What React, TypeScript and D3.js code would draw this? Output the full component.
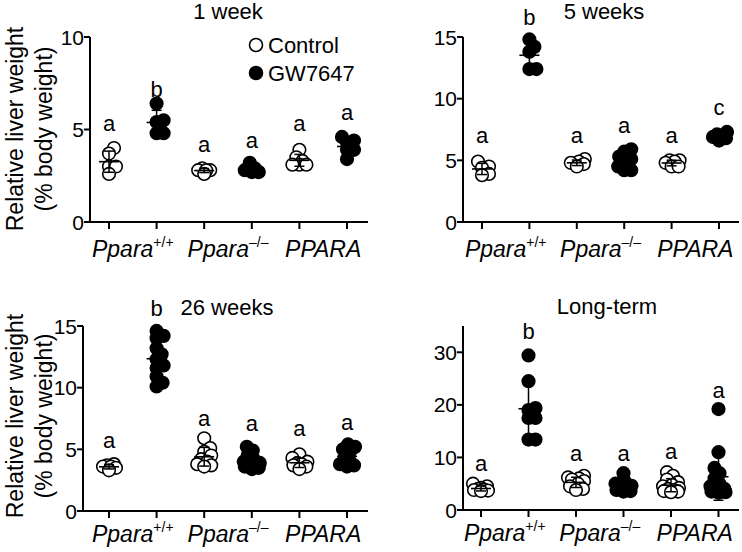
import React from "react";
import * as d3 from "d3";

// ---------- DATA ----------
const groupIds = ["wtC", "wtG", "koC", "koG", "huC", "huG"];
const genotypes = ["Ppara", "Ppara", "PPARA"];
const genotypeSups = ["+/+", "\u2013/\u2013", ""];
const treatments = ["Control", "GW7647"];
const panelTitles = ["1 week", "5 weeks", "26 weeks", "Long-term"];

const week1Values = [
  [4.0, 3.7, 3.0, 3.0, 2.6],
  [6.4, 5.5, 5.4, 4.8, 4.8],
  [2.9, 2.8, 2.8, 2.8, 2.6],
  [3.2, 2.9, 2.8, 2.7, 2.7],
  [3.9, 3.5, 3.3, 3.1, 3.1, 3.1],
  [4.6, 4.4, 4.3, 3.9, 3.9, 3.4],
];
const week5Values = [
  [4.9, 4.5, 4.4, 3.9, 3.8],
  [14.8, 14.2, 13.8, 12.4, 12.4],
  [5.1, 4.9, 4.8, 4.7, 4.5],
  [5.9, 5.7, 5.3, 5.1, 4.9, 4.5, 4.2, 4.2],
  [5.0, 5.0, 4.9, 4.8, 4.5, 4.5],
  [7.3, 7.1, 7.0, 6.9, 6.8, 6.6],
];
const week26Values = [
  [3.8, 3.7, 3.6, 3.6, 3.5, 3.3],
  [14.6, 14.2, 14.0, 13.2, 12.7, 12.3, 11.8, 11.6, 10.9, 10.4, 10.1],
  [5.9, 5.1, 4.8, 4.5, 4.2, 4.0, 3.8, 3.7, 3.6],
  [5.2, 4.9, 4.5, 4.2, 4.0, 3.9, 3.8, 3.7, 3.6, 3.5, 3.4],
  [4.6, 4.3, 4.0, 3.9, 3.8, 3.7, 3.6, 3.4],
  [5.4, 5.2, 5.0, 4.8, 4.4, 4.0, 3.8, 3.7, 3.6],
];
const longTermValues = [
  [5.0, 4.5, 4.2, 4.0, 3.9, 3.8, 3.7, 3.6],
  [29.4, 24.5, 19.4, 19.0, 17.5, 17.5, 13.4, 13.4],
  [6.5, 6.2, 6.0, 5.8, 5.5, 5.0, 4.5, 4.0, 3.8],
  [7.0, 5.5, 5.0, 4.6, 4.3, 4.0, 3.8, 3.6, 3.5],
  [7.2, 6.5, 5.8, 5.3, 4.8, 4.5, 4.2, 4.0, 3.8, 3.6, 3.5, 3.4],
  [19.2, 11.0, 8.0, 7.0, 6.0, 5.0, 4.5, 4.0, 3.8, 3.6, 3.5, 3.4, 3.3],
];

const week1Letters = ["a", "b", "a", "a", "a", "a"];
const week5Letters = ["a", "b", "a", "a", "a", "c"];
const week26Letters = ["a", "b", "a", "a", "a", "a"];
const longTermLetters = ["a", "b", "a", "a", "a", "a"];

// letter heights in data units
const week1LetterAt = [4.9, 6.75, 3.8, 4.0, 4.9, 5.5];
const week5LetterAt = [6.4, 16.0, 6.4, 7.2, 6.4, 8.7];
const week26LetterAt = [5.1, 15.8, 6.9, 6.5, 6.1, 6.6];
const longTermLetterAt = [7.4, 32.6, 9.3, 9.3, 9.7, 21.3];

const week1Ticks = [0, 5, 10];
const week5Ticks = [0, 5, 10, 15];
const week26Ticks = [0, 5, 10, 15];
const longTermTicks = [0, 10, 20, 30];

const yLabelLines = ["Relative liver weight", "(% body weight)"];

// ---------- LAYOUT ----------
const FONT = "'Liberation Sans', Arial, Helvetica, sans-serif";

type PanelCfg = {
  title: string;
  values: number[][];
  letters: string[];
  letterAt: number[];
  ticks: number[];
  yMax: number;
  axisX: number;
  top: number;
  bottom: number;
  right: number;
  tick0: number;
  step: number;
  titleX: number;
  titleY: number;
  labelGap: number;
  yLabelCx: number | null;
  legend: boolean;
};

const panels: PanelCfg[] = [
  {
    title: panelTitles[0], values: week1Values, letters: week1Letters, letterAt: week1LetterAt,
    ticks: week1Ticks, yMax: 10, axisX: 90, top: 37, bottom: 222, right: 368, tick0: 109, step: 47.6,
    titleX: 228, titleY: 19, labelGap: 35, yLabelCx: 129, legend: true,
  },
  {
    title: panelTitles[1], values: week5Values, letters: week5Letters, letterAt: week5LetterAt,
    ticks: week5Ticks, yMax: 15, axisX: 463, top: 37, bottom: 222, right: 739, tick0: 482, step: 47.4,
    titleX: 604, titleY: 19, labelGap: 35, yLabelCx: null, legend: false,
  },
  {
    title: panelTitles[2], values: week26Values, letters: week26Letters, letterAt: week26LetterAt,
    ticks: week26Ticks, yMax: 15, axisX: 83, top: 326, bottom: 511, right: 368, tick0: 109, step: 47.6,
    titleX: 227, titleY: 315, labelGap: 31, yLabelCx: 416, legend: false,
  },
  {
    title: panelTitles[3], values: longTermValues, letters: longTermLetters, letterAt: longTermLetterAt,
    ticks: longTermTicks, yMax: 35, axisX: 463, top: 326, bottom: 510, right: 739, tick0: 481, step: 47.5,
    titleX: 607, titleY: 314, labelGap: 31, yLabelCx: null, legend: false,
  },
];

const R = 6.3;

function beeswarm(ys: number[], minDist: number, maxOff: number): number[] {
  const order = ys.map((_, i) => i).sort((a, b) => ys[b] - ys[a]);
  const placed: { x: number; y: number }[] = [];
  const out = new Array(ys.length).fill(0);
  const cands: number[] = [0];
  for (let k = 1; k <= maxOff; k++) { cands.push(k); cands.push(-k); }
  for (const i of order) {
    const y = ys[i];
    let best = 0;
    let bestScore = -1;
    for (const off of cands) {
      const score = placed.length
        ? Math.min(...placed.map((p) => Math.hypot(p.x - off, p.y - y)))
        : Infinity;
      if (score >= minDist) { best = off; bestScore = score; break; }
      if (score > bestScore + 0.01) { bestScore = score; best = off; }
    }
    placed.push({ x: best, y });
    out[i] = best;
  }
  return out;
}

function Panel({ cfg }: { cfg: PanelCfg }) {
  const x = d3.scalePoint<string>().domain(groupIds).range([cfg.tick0, cfg.tick0 + 5 * cfg.step]);
  const y = d3.scaleLinear().domain([0, cfg.yMax]).range([cfg.bottom, cfg.top]);
  const lw = 2;
  return (
    <g>
      <text x={cfg.titleX} y={cfg.titleY} textAnchor="middle" fontSize={22} fontFamily={FONT}>{cfg.title}</text>
      {/* y axis */}
      <line x1={cfg.axisX} x2={cfg.axisX} y1={y(cfg.yMax)} y2={cfg.bottom + lw / 2} stroke="#000" strokeWidth={lw} />
      {cfg.ticks.map((t) => (
        <g key={t}>
          <line x1={cfg.axisX - 6} x2={cfg.axisX} y1={y(t)} y2={y(t)} stroke="#000" strokeWidth={lw} />
          <text x={cfg.axisX - 6} y={y(t)} dy="0.36em" textAnchor="end" fontSize={21} fontFamily={FONT}>{t}</text>
        </g>
      ))}
      {/* x axis */}
      <line x1={cfg.axisX - lw / 2} x2={cfg.right} y1={cfg.bottom} y2={cfg.bottom} stroke="#000" strokeWidth={lw} />
      {groupIds.map((g) => (
        <line key={g} x1={x(g)!} x2={x(g)!} y1={cfg.bottom} y2={cfg.bottom + 7} stroke="#000" strokeWidth={lw} />
      ))}
      {genotypes.map((gt, i) => {
        const cx = (x(groupIds[2 * i])! + x(groupIds[2 * i + 1])!) / 2;
        return (
          <text key={i} x={cx} y={cfg.bottom + cfg.labelGap} textAnchor="middle" fontSize={23} fontFamily={FONT} fontStyle="italic">
            {gt}
            {genotypeSups[i] ? (
              <tspan fontSize={14} fontStyle="normal" dy={-10}>{genotypeSups[i]}</tspan>
            ) : null}
          </text>
        );
      })}
      {/* y label */}
      {cfg.yLabelCx !== null ? (
        <g>
          {yLabelLines.map((l, i) => (
            <text key={i} transform={`translate(${15 + i * 29},${cfg.yLabelCx}) rotate(-90)`} dy="0.36em" textAnchor="middle" fontSize={23} fontFamily={FONT}>{l}</text>
          ))}
        </g>
      ) : null}
      {/* data */}
      {cfg.values.map((vals, gi) => {
        const gx = x(groupIds[gi])!;
        const filled = gi % 2 === 1;
        const pys = vals.map((v) => y(v));
        const offs = beeswarm(pys, 7, 8);
        const mean = d3.mean(vals)!;
        const sd = d3.deviation(vals) ?? 0;
        return (
          <g key={gi}>
            {vals.map((v, k) => (
              <circle key={k} cx={gx + offs[k]} cy={pys[k]} r={R} fill={filled ? "#000" : "#fff"} stroke="#000" strokeWidth={1.6} />
            ))}
            <line x1={gx} x2={gx} y1={y(mean - sd)} y2={y(mean + sd)} stroke="#000" strokeWidth={1.5} />
            <line x1={gx - 10} x2={gx + 10} y1={y(mean)} y2={y(mean)} stroke="#000" strokeWidth={1.6} />
            <line x1={gx - 5} x2={gx + 5} y1={y(mean - sd)} y2={y(mean - sd)} stroke="#000" strokeWidth={1.5} />
            <line x1={gx - 5} x2={gx + 5} y1={y(mean + sd)} y2={y(mean + sd)} stroke="#000" strokeWidth={1.5} />
            <text x={gx} y={y(cfg.letterAt[gi])} textAnchor="middle" fontSize={22} fontFamily={FONT}>{cfg.letters[gi]}</text>
          </g>
        );
      })}
      {cfg.legend ? (
        <g>
          {treatments.map((t, i) => (
            <g key={t}>
              <circle cx={256} cy={45 + i * 28} r={6.5} fill={i === 1 ? "#000" : "#fff"} stroke="#000" strokeWidth={1.6} />
              <text x={268} y={45 + i * 28} dy="0.36em" fontSize={22} fontFamily={FONT}>{t}</text>
            </g>
          ))}
        </g>
      ) : null}
    </g>
  );
}

export default function App() {
  return (
    <svg width={742} height={552} style={{ position: "absolute", left: 0, top: 0, background: "#fff" }}>
      <rect width={742} height={552} fill="#fff" />
      {panels.map((p, i) => (
        <Panel key={i} cfg={p} />
      ))}
    </svg>
  );
}
